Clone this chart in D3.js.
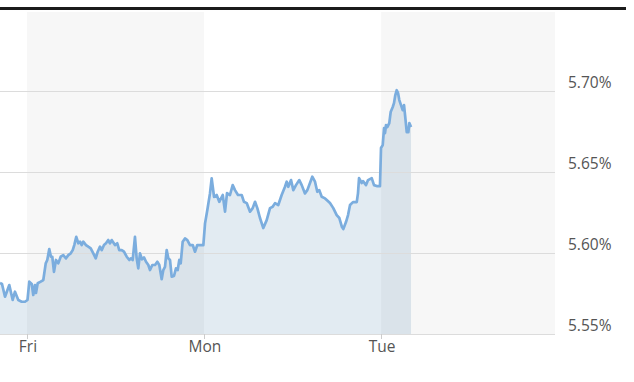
<!DOCTYPE html>
<html><head><meta charset="utf-8">
<script src="https://cdn.jsdelivr.net/npm/d3@7"></script>
<style>html,body{margin:0;padding:0;background:#fff;}svg{display:block;}</style>
</head><body>
<svg id="c" width="634" height="382"></svg>
<script>
// hours since Thursday 00:00 (trading-time axis, weekend removed)
const times = [20.34,20.61,21.02,21.60,22.06,22.37,22.82,23.28,23.73,24.07,24.31,24.64,24.85,25.08,25.22,25.45,25.86,26.21,26.54,26.75,27.02,27.25,27.43,27.66,27.93,28.24,28.57,28.92,29.29,29.60,29.93,30.20,30.41,30.68,30.96,31.19,31.42,31.63,32.00,32.31,32.64,32.99,33.32,33.59,33.90,34.13,34.44,34.71,35.02,35.25,35.48,35.66,35.93,36.24,36.51,36.84,37.15,37.52,37.87,38.10,38.33,38.64,38.87,39.09,39.32,39.59,39.86,40.14,40.45,40.68,40.99,41.36,41.67,41.94,42.26,42.48,42.71,42.94,43.16,43.39,43.62,43.93,44.20,44.43,44.65,44.84,45.11,45.42,45.74,46.10,46.47,46.78,47.09,47.46,47.91,48.14,48.45,48.81,49.04,49.36,49.72,50.07,50.54,50.85,51.12,51.52,51.89,52.20,52.61,53.11,53.42,53.79,54.24,54.60,54.92,55.23,55.59,56.04,56.50,56.95,57.31,57.63,58.07,58.53,58.98,59.21,59.43,59.80,60.11,60.47,60.92,61.25,61.69,62.01,62.37,62.68,63.05,63.36,63.63,63.96,64.41,64.64,65.08,65.53,65.99,66.35,66.71,66.89,67.25,67.53,67.80,68.20,68.71,68.88,69.02,69.38,69.56,69.97,70.24,70.74,71.05,71.42,71.86,72.00,72.23,72.41,72.54,72.68,72.85,73.12,73.31,73.59,73.76,73.94,74.13,74.31,74.48,74.71,74.94,75.12,75.30,75.49,75.71,75.84,76.07];
const values = [5.5815,5.5809,5.5730,5.5802,5.5710,5.5761,5.5710,5.5699,5.5699,5.5710,5.5823,5.5809,5.5741,5.5802,5.5753,5.5813,5.5823,5.5833,5.5936,5.5957,5.6024,5.5977,5.5977,5.5884,5.5957,5.5936,5.5977,5.5987,5.5967,5.5987,5.5998,5.6018,5.6049,5.6100,5.6060,5.6070,5.6049,5.6070,5.6049,5.6039,5.6029,5.5998,5.5967,5.6008,5.6039,5.6018,5.6049,5.6060,5.6080,5.6060,5.6080,5.6068,5.6049,5.6060,5.6018,5.6018,5.6008,5.5977,5.5957,5.5967,5.5957,5.6100,5.5967,5.5905,5.5998,5.5961,5.5973,5.5946,5.5926,5.5895,5.5926,5.5926,5.5946,5.5926,5.5838,5.5895,5.5915,5.6018,5.5967,5.5957,5.5854,5.5858,5.5905,5.5895,5.5957,5.5936,5.6070,5.6090,5.6080,5.6049,5.6049,5.6008,5.6049,5.6049,5.6049,5.6183,5.6265,5.6368,5.6461,5.6347,5.6358,5.6316,5.6358,5.6255,5.6370,5.6358,5.6419,5.6388,5.6358,5.6358,5.6316,5.6308,5.6255,5.6277,5.6316,5.6277,5.6216,5.6154,5.6203,5.6277,5.6285,5.6308,5.6296,5.6358,5.6409,5.6440,5.6409,5.6450,5.6388,5.6419,5.6450,5.6419,5.6368,5.6388,5.6432,5.6471,5.6440,5.6378,5.6388,5.6347,5.6337,5.6327,5.6308,5.6277,5.6234,5.6216,5.6160,5.6148,5.6191,5.6234,5.6296,5.6314,5.6314,5.6370,5.6462,5.6432,5.6444,5.6419,5.6450,5.6462,5.6419,5.6413,5.6413,5.6648,5.6666,5.6771,5.6740,5.6790,5.6777,5.6802,5.6870,5.6901,5.6925,5.6975,5.7005,5.6987,5.6944,5.6913,5.6882,5.6913,5.6833,5.6746,5.6746,5.6802,5.6777];
const dayLabels = ["Fri","Mon","Tue"];
const dayStarts = [24, 48, 72];
const shadedDays = [[24, 48], [72, 96]];
const yTicks = [5.55, 5.60, 5.65, 5.70];
const xDomain = [20.34, 95.59];
const yDomain = [5.55, 5.75];

const svg = d3.select("#c");
const plotL = 0, plotR = 555, plotT = 10, plotB = 334;
const x = d3.scaleLinear().domain(xDomain).range([plotL, plotR]);
const y = d3.scaleLinear().domain(yDomain).range([plotB, plotT]);
const font = "'Open Sans', sans-serif";

// top rule
svg.append("rect").attr("x", 0).attr("y", 7).attr("width", 626).attr("height", 3).attr("fill", "#1b1b1b");

const data = times.map((t, i) => ({t, v: values[i]}));

// area
svg.append("path").datum(data)
  .attr("fill", "#e2ebf2")
  .attr("d", d3.area().x(d => x(d.t)).y0(y(yDomain[0])).y1(d => y(d.v)));

// shaded day bands (overlay)
svg.append("g").selectAll("rect").data(shadedDays).join("rect")
  .attr("x", d => x(d[0]))
  .attr("width", d => Math.min(x(d[1]), plotR) - x(d[0]))
  .attr("y", 12).attr("height", plotB - 12)
  .attr("fill", "rgba(0,0,0,0.03)");

// gridlines
svg.append("g").selectAll("line").data(yTicks).join("line")
  .attr("x1", plotL).attr("x2", plotR)
  .attr("y1", d => Math.round(y(d)) + 0.5).attr("y2", d => Math.round(y(d)) + 0.5)
  .attr("stroke", "#dcdcdc").attr("stroke-width", 1);

// line
svg.append("path").datum(data)
  .attr("fill", "none").attr("stroke", "#7badde").attr("stroke-width", 2.7)
  .attr("stroke-linejoin", "round")
  .attr("d", d3.line().x(d => x(d.t)).y(d => y(d.v)));

// y labels
svg.append("g").selectAll("text").data(yTicks).join("text")
  .attr("x", 568).attr("y", d => y(d) - 3)
  .attr("font-family", font).attr("font-size", 15.5).attr("fill", "#555")
  .text(d => d3.format(".2f")(d) + "%");

// x ticks and labels
const xa = svg.append("g");
xa.selectAll("line").data(dayStarts).join("line")
  .attr("x1", d => Math.round(x(d)) + 0.5).attr("x2", d => Math.round(x(d)) + 0.5)
  .attr("y1", plotB).attr("y2", plotB + 5).attr("stroke", "#ccc");
xa.selectAll("text").data(dayStarts).join("text")
  .attr("x", d => x(d) + 1).attr("y", 352).attr("text-anchor", "middle")
  .attr("font-family", font).attr("font-size", 15.5).attr("fill", "#555")
  .text((d, i) => dayLabels[i]);
</script>
</body></html>
